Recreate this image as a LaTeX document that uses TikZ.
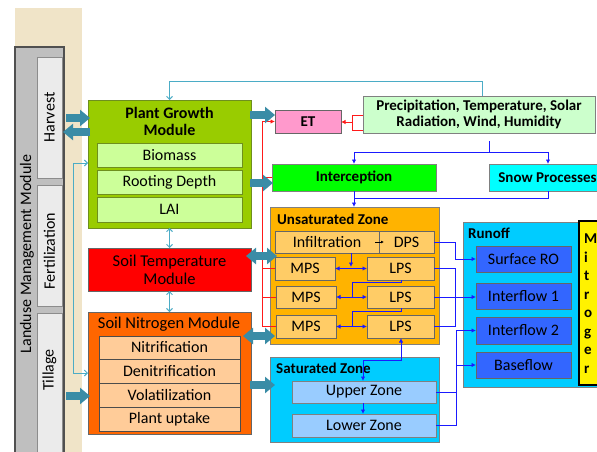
\documentclass[tikz,border=0pt]{standalone}
\usepackage{fontspec}
\setmainfont{Carlito}
\usetikzlibrary{arrows.meta,calc}
\definecolor{beige}{HTML}{F0E4C8}
\definecolor{grayc}{HTML}{BFBFBF}
\definecolor{dkgray}{HTML}{505050}
\definecolor{ltgray}{HTML}{EBEBEB}
\definecolor{midgray}{HTML}{8C8C8C}
\definecolor{pgmc}{HTML}{99CC00}
\definecolor{pgmb}{HTML}{6E8F1E}
\definecolor{pgsub}{HTML}{CCFF99}
\definecolor{stmc}{HTML}{FF0000}
\definecolor{snmc}{HTML}{FF6600}
\definecolor{peach}{HTML}{FFCC99}
\definecolor{etc}{HTML}{FF99CC}
\definecolor{prc}{HTML}{CCFFCC}
\definecolor{intc}{HTML}{00FF00}
\definecolor{snowc}{HTML}{00FFFF}
\definecolor{unsc}{HTML}{FFB300}
\definecolor{unsub}{HTML}{FFCC66}
\definecolor{satc}{HTML}{00CCFF}
\definecolor{satsub}{HTML}{99CCFF}
\definecolor{roc}{HTML}{3366FF}
\definecolor{fatc}{HTML}{3A8CA6}
\definecolor{ltcol}{HTML}{4BACC6}
\definecolor{blcol}{HTML}{1A1AFF}
\definecolor{rdcol}{HTML}{FF1A1A}
\newcommand\mybox[7]{\node[bx,#6,minimum width={(#4-#2)*1pt},minimum height={(#5-#3)*1pt}] (#1) at ({(#2+#4)/2},{(#3+#5)/2}) {#7};}
\begin{document}
\begin{tikzpicture}[x=1pt,y=-1pt,
  bx/.style={draw=black!70, inner sep=0pt, outer sep=0pt, align=center, line width=0.8pt, font=\fontsize{16}{17}\selectfont},
  bft/.style={font=\bfseries\fontsize{15}{16}\selectfont},
  ttl/.style={inner sep=0pt, anchor=west, font=\bfseries\fontsize{15}{16}\selectfont},
  rtxt/.style={inner sep=0pt, rotate=90, font=\fontsize{16}{17}\selectfont},
  fat/.style={draw=fatc, line width=8pt, -{Triangle[width=16pt,length=10pt]}},
  fattwo/.style={draw=fatc, line width=8pt, {Triangle[width=16pt,length=10pt]}-{Triangle[width=16pt,length=10pt]}},
  ltc/.style={draw=ltcol, line width=0.9pt},
  lta/.style={ltc, -{Straight Barb[length=3pt,width=6pt]}},
  ltb/.style={ltc, {Straight Barb[length=3pt,width=6pt]}-{Straight Barb[length=3pt,width=6pt]}},
  bl/.style={draw=blcol, line width=1pt},
  bla/.style={bl, -{Latex[length=4.5pt,width=4.5pt]}},
  blb/.style={bl, {Latex[length=4.5pt,width=4.5pt]}-{Latex[length=4.5pt,width=4.5pt]}},
  rd/.style={draw=rdcol, line width=1pt},
  rda/.style={rd, -{Latex[length=4.5pt,width=4.5pt]}}]
\useasboundingbox (0,0) rectangle (597,452);
\clip (0,0) rectangle (597,452);
\fill[white] (0,0) rectangle (597,452);
% Landuse management
\mybox{bg}{15}{8}{82}{470}{draw=none,fill=beige}{}
\mybox{lum}{15}{47}{64}{470}{fill=grayc,draw=dkgray,line width=1.3pt}{}
\node[rtxt] (lumt) at (27,254) {Landuse Management Module};
\mybox{harv}{37}{57}{62}{178}{fill=ltgray,draw=midgray}{}
\mybox{fert}{37}{185}{62}{306}{fill=ltgray,draw=midgray}{}
\mybox{till}{37}{313}{62}{470}{fill=ltgray,draw=midgray}{}
\node[rtxt] (harvt) at (49.5,117.5) {Harvest};
\node[rtxt] (fertt) at (49.5,251) {Fertilization};
\node[rtxt] (tillt) at (49.5,370) {Tillage};
% Plant growth
\mybox{pgm}{88}{100}{251}{228}{fill=pgmc,draw=pgmb}{}
\node[inner sep=0pt,align=center,font=\bfseries\fontsize{16}{17}\selectfont] (pgmt) at (169.5,121.5) {Plant Growth\\Module};
\mybox{bio}{97}{143}{242}{167}{fill=pgsub,draw=pgmb}{Biomass}
\mybox{root}{97}{170}{242}{194}{fill=pgsub,draw=pgmb}{Rooting Depth}
\mybox{lai}{97}{197}{242}{222}{fill=pgsub,draw=pgmb}{LAI}
% Soil temperature
\mybox{stm}{88}{248}{251}{291}{fill=stmc,draw=black!60,font=\fontsize{16.5}{18}\selectfont}{Soil Temperature\\Module}
% Soil nitrogen
\mybox{snm}{88}{312}{251}{434}{fill=snmc,draw=black!60}{}
\node[inner sep=0pt,font=\fontsize{16.5}{17}\selectfont] (snmt) at (169,324) {Soil Nitrogen Module};
\mybox{nit}{99}{336}{240}{359}{fill=peach,draw=black!70}{Nitrification}
\mybox{den}{99}{359}{240}{383}{fill=peach,draw=black!70}{Denitrification}
\mybox{vol}{99}{383}{240}{407}{fill=peach,draw=black!70}{Volatilization}
\mybox{upt}{99}{407}{240}{431}{fill=peach,draw=black!70}{Plant uptake}
% ET, precipitation
\mybox{et}{275}{110}{341}{133}{fill=etc,draw=black!60,bft}{ET}
\mybox{precip}{363}{96}{595}{133}{fill=prc,draw=black!50,bft}{Precipitation, Temperature, Solar\\Radiation, Wind, Humidity}
\mybox{interc}{272}{164}{436}{191}{fill=intc,draw=black!50,bft}{Interception}
\mybox{snow}{489}{164}{610}{191}{fill=snowc,draw=black!50,bft}{\hspace*{-4pt}Snow Processes}
% Unsaturated zone
\mybox{unsat}{270}{207}{439}{344}{fill=unsc,draw=black!50}{}
\node[ttl] (unsatt) at (277,219) {Unsaturated Zone};
\mybox{infil}{275}{231}{379}{253}{fill=unsub,draw=black!60}{Infiltration}
\mybox{dps}{379}{231}{434}{253}{fill=unsub,draw=black!60}{DPS}
\mybox{mpsa}{275}{257}{335}{280}{fill=unsub,draw=black!60}{MPS}
\mybox{lpsa}{367}{257}{434}{280}{fill=unsub,draw=black!60}{LPS}
\mybox{mpsb}{276}{286}{336}{308}{fill=unsub,draw=black!60}{MPS}
\mybox{lpsb}{367}{286}{434}{308}{fill=unsub,draw=black!60}{LPS}
\mybox{mpsc}{276}{315}{336}{338}{fill=unsub,draw=black!60}{MPS}
\mybox{lpsc}{367}{315}{434}{338}{fill=unsub,draw=black!60}{LPS}
% Saturated zone
\mybox{sat}{270}{357}{439}{442}{fill=satc,draw=black!50}{}
\node[ttl] (satt) at (276,368) {Saturated Zone};
\mybox{upper}{292}{381}{436}{403}{fill=satsub,draw=black!50}{Upper Zone}
\mybox{lower}{292}{414}{436}{437}{fill=satsub,draw=black!50}{Lower Zone}
% Runoff
\mybox{runoff}{463}{222}{610}{387}{fill=satc,draw=black!50}{}
\node[ttl] (runofft) at (468,233) {Runoff};
\mybox{surf}{476}{246}{571}{272}{fill=roc,draw=black!60}{Surface RO}
\mybox{ifa}{476}{283}{571}{309}{fill=roc,draw=black!60}{Interflow 1}
\mybox{ifb}{476}{317}{571}{344}{fill=roc,draw=black!60}{Interflow 2}
\mybox{base}{476}{352}{571}{378}{fill=roc,draw=black!60}{Baseflow}
\mybox{note}{579}{221}{620}{385}{fill=yellow,draw=black,line width=1.6pt}{}
\node[inner sep=0pt,anchor=north west,align=left,font=\bfseries\fontsize{15}{18.5}\selectfont] (notet) at (584,234) {M\\i\\t\\r\\o\\g\\e\\r};
% light teal connectors
\draw[lta] (precip.north -| 482,0) |- (169.5,81) -- (pgm.north);
\draw[ltb] (pgm.west |- 0,163) -- (73,163) -- (73,373) -- (snm.west |- 0,373);
\draw[ltb] (pgm.south) -- (stm.north);
\draw[ltb] (stm.south) -- (snm.north);
% red connectors
\draw[rd] (precip.west |- 0,115) -- (352,115) -- (352,130) -- (precip.west |- 0,130);
\draw[rda] (352,122) -- (et.east |- 0,122);
\draw[rda] (mpsc.west) -| (262,121.5) -- (et.west);
\draw[rd] (262,177.5) -- (interc.west);
\draw[rd] (262,268.5) -- (mpsa.west);
\draw[rd] (262,297) -- (mpsb.west);
% blue connectors
\coordinate (pb) at (489,141);
\draw[bla] (pb) -- (489,152) -| (interc.north -| 354,0);
\draw[bla] (489,152) -| (snow.north -| 548,0);
\draw[bl] (snow.south -| 548,0) -- (548,198) -- (354,198);
\draw[bla] (interc.south -| 354,0) -- (unsat.north -| 354,0);
\draw[-{Latex[length=3pt,width=3pt]},line width=0.6pt] (375,242) -- (384,242);
\draw[bla] (infil.south -| 351,0) -- (351,267);
\draw[blb] (mpsa.east) -- (lpsa.west);
\draw[bl] (lpsa.south -| 401,0) -- (401,282) -- (352,282) -- (352,297);
\draw[blb] (mpsb.east) -- (lpsb.west);
\draw[bl] (lpsb.south -| 401,0) -- (401,311) -- (352,311) -- (352,326.5);
\draw[blb] (mpsc.east) -- (lpsc.west);
\draw[blb] (lpsc.south -| 401,0) -- (401,360) -- (363,360) -- (upper.north -| 363,0);
\draw[bla] (upper.south -| 363,0) -- (lower.north -| 363,0);
\draw[bla] (dps.east) -- (455,242) |- (surf.west);
\draw[bl] (lpsa.east) -| (455,326.5) -- (lpsc.east);
\draw[bla] (lpsb.east) -- (ifa.west |- lpsb.east);
\draw[bl] (upper.east) -- (456,392);
\draw[bla] (lower.east) -| (456,330.5) -- (ifb.west);
\draw[bla] (456,365) -- (base.west);
% fat arrows
\draw[fat] ($(harv.east|-0,118)+(4,0)$) -- ($(pgm.west|-0,118)+(2,0)$);
\draw[fat] ($(pgm.west|-0,132)+(2,0)$) -- ($(harv.east|-0,132)+(1,0)$);
\draw[fat] ($(till.east|-0,396)+(4,0)$) -- ($(snm.west|-0,396)+(2,0)$);
\draw[fat] ($(pgm.east|-0,115)+(-1,0)$) -- (et.west|-0,115);
\draw[fat] ($(pgm.east|-0,183)+(-1,0)$) -- ($(interc.west|-0,183)+(1,0)$);
\draw[fattwo] ($(stm.east|-0,256)+(-5,0)$) -- ($(unsat.west|-0,256)+(7,0)$);
\draw[fattwo] ($(snm.east|-0,336)+(-8,0)$) -- ($(unsat.west|-0,336)+(5,0)$);
\draw[fat] ($(snm.east|-0,385)+(-1,0)$) -- ($(sat.west|-0,385)+(5,0)$);
\end{tikzpicture}
\end{document}
